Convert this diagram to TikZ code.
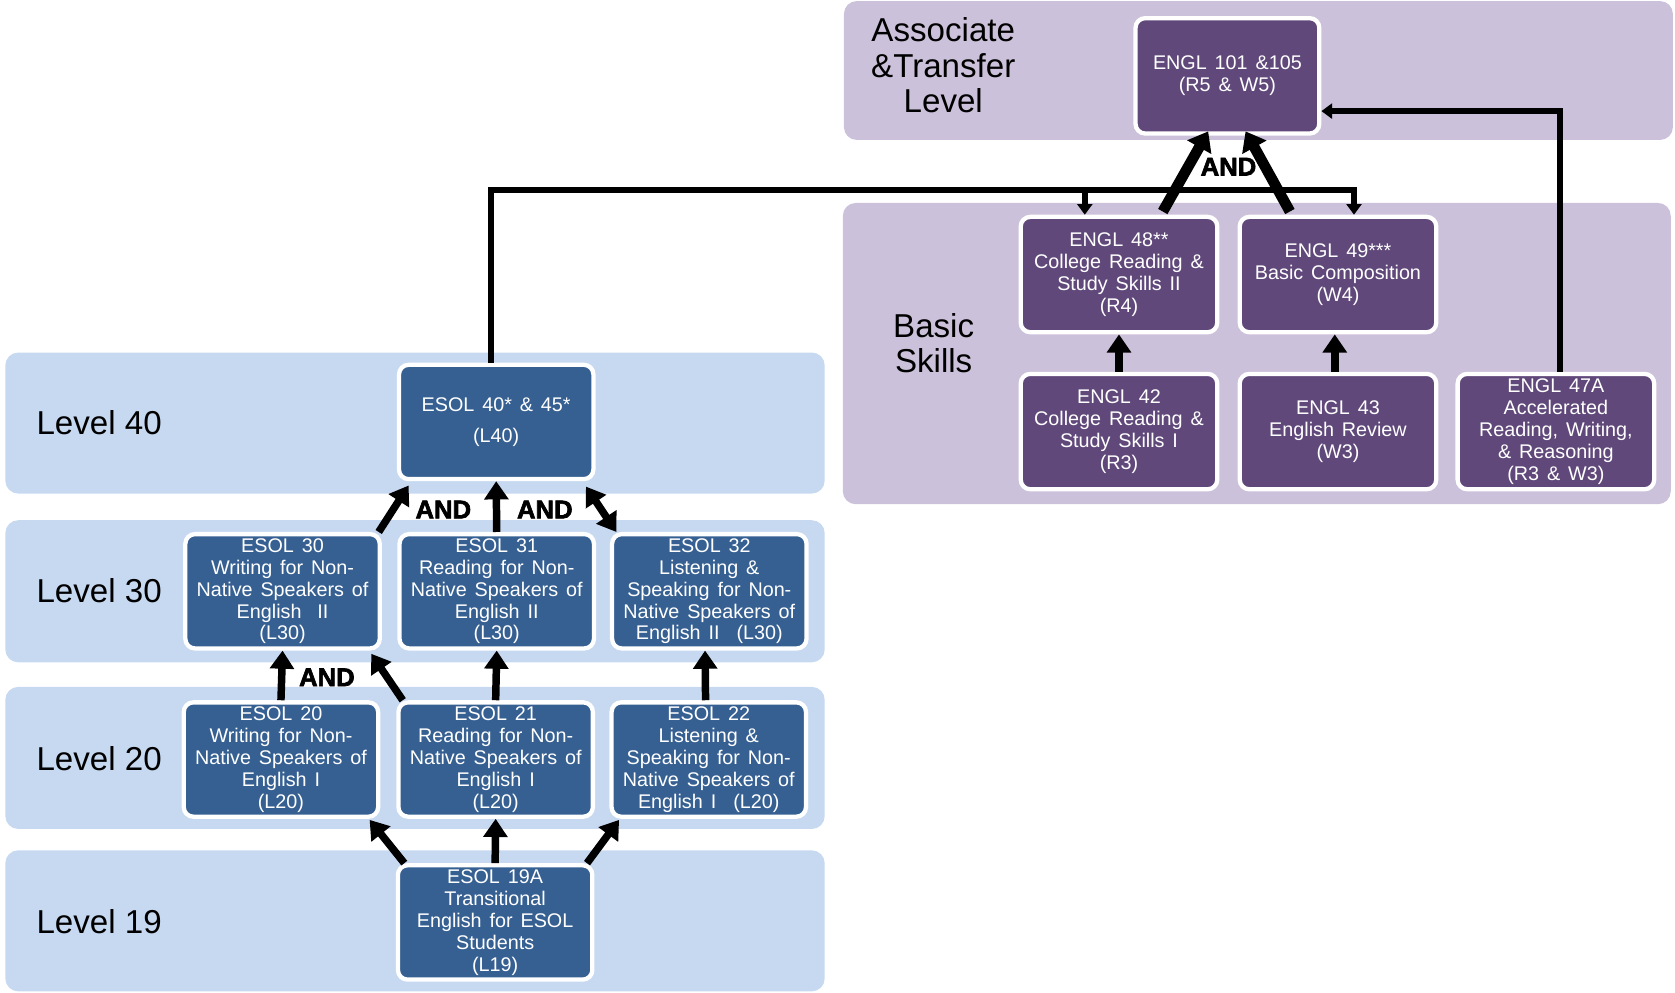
\documentclass[tikz,border=0pt]{standalone}
\usepackage{fontspec}
\setmainfont{Liberation Sans}
\newfontfamily\andfont[BoldFeatures={FakeBold=2.5}]{Liberation Sans}
\usetikzlibrary{arrows.meta,positioning}

\definecolor{bandblue}{RGB}{198,217,241}
\definecolor{boxblue}{RGB}{54,96,146}
\definecolor{bandpurple}{RGB}{204,193,218}
\definecolor{boxpurple}{RGB}{96,73,122}

\newcommand\coursefont{\fontsize{18.5pt}{20.5pt}\selectfont\spaceskip=0.4em plus 0.1em\relax}

\tikzset{
	esol/.style={draw=white, line width=4pt, fill=boxblue, rounded corners=9pt, text=white, align=center,
		minimum width=182pt, minimum height=107pt, inner sep=0pt, font=\coursefont},
	engl/.style={esol, fill=boxpurple, minimum width=184pt, minimum height=108pt},
	levellabel/.style={anchor=west, inner sep=0pt, font=\fontsize{31pt}{33pt}\selectfont},
	tierlabel/.style={align=center, inner sep=0pt, font=\fontsize{31pt}{33pt}\selectfont},
	andlabel/.style={inner sep=0pt, font=\andfont\bfseries\fontsize{24pt}{24pt}\selectfont},
	fatarrow/.style={line width=7pt, -{Triangle[width=22pt,length=17pt]}},
	widearrow/.style={line width=10pt, -{Triangle[width=25pt,length=17pt]}},
	link/.style={line width=6pt, -{Triangle[width=14pt,length=10pt]}}
}

\begin{document}
\begin{tikzpicture}[x=1pt, y=-1pt]
	\useasboundingbox (0,0) rectangle (1568,929);

	% bands
	\fill[bandblue, rounded corners=12pt] (5,330) rectangle (772,462);
	\fill[bandblue, rounded corners=12pt] (5,487) rectangle (772,620);
	\fill[bandblue, rounded corners=12pt] (5,643) rectangle (772,776);
	\fill[bandblue, rounded corners=12pt] (5,796) rectangle (772,928);
	\fill[bandpurple, rounded corners=12pt] (790,1) rectangle (1566,131);
	\fill[bandpurple, rounded corners=12pt] (789,190) rectangle (1564,472);

	\node[levellabel] (lv40) at (34,396) {Level 40};
	\node[levellabel] (lv30) at (34,553) {Level 30};
	\node[levellabel] (lv20) at (34,710) {Level 20};
	\node[levellabel] (lv19) at (34,863) {Level 19};
	\node[tierlabel] (assoc) at (883,61) {Associate\\\&Transfer\\Level};
	\node[tierlabel] (basic) at (874,321) {Basic\\Skills};

	% ESOL courses
	\node[esol] (e40) at (464.5,395) {ESOL 40* \& 45*\\[8pt](L40)};
	\node[esol] (e30) at (264.5,553.5) {ESOL 30\\Writing for Non-\\Native Speakers of\\English\ \ II\\(L30)};
	\node[esol] (e31) at (465,553.5) {ESOL 31\\Reading for Non-\\Native Speakers of\\English II\\(L30)};
	\node[esol] (e32) at (664,553.5) {ESOL 32\\Listening \&\\Speaking for Non-\\Native Speakers of\\English II\hspace{16pt}(L30)};
	\node[esol] (e20) at (263,711) {ESOL 20\\Writing for Non-\\Native Speakers of\\English I\\(L20)};
	\node[esol] (e21) at (464,711) {ESOL 21\\Reading for Non-\\Native Speakers of\\English I\\(L20)};
	\node[esol] (e22) at (663.5,711) {ESOL 22\\Listening \&\\Speaking for Non-\\Native Speakers of\\English I\hspace{16pt}(L20)};
	\node[esol] (e19) at (463.5,863.5) {ESOL 19A\\Transitional\\English for ESOL\\Students\\(L19)};

	% ENGL courses
	\node[engl, minimum width=172pt] (g101) at (1149,71) {ENGL 101 \&105\\(R5 \& W5)};
	\node[engl] (g48) at (1047.5,257) {ENGL 48**\\College Reading \&\\Study Skills II\\(R4)};
	\node[engl] (g49) at (1252.5,257) {ENGL 49***\\Basic Composition\\(W4)};
	\node[engl] (g42) at (1047.5,404) {ENGL 42\\College Reading \&\\Study Skills I\\(R3)};
	\node[engl] (g43) at (1252.5,404) {ENGL 43\\English Review\\(W3)};
	\node[engl] (g47) at (1456.5,404) {ENGL 47A\\Accelerated\\Reading, Writing,\\\& Reasoning\\(R3 \& W3)};

	% long connectors
	\coordinate (bus48) at ([xshift=-32pt,yshift=23pt]g48.north);
	\coordinate (bus49) at ([xshift=15pt,yshift=23pt]g49.north);
	\draw[link] ([xshift=-5pt]e40.north) |- (bus49) -- (bus49 |- g49.north);
	\draw[link] (bus48) -- (bus48 |- g48.north);
	\draw[link] ([xshift=4pt]g47.north) |- ([yshift=-33pt]g101.east);

	% ESOL arrows
	\draw[fatarrow] ([xshift=8pt]e19.north west) -- ([xshift=-10pt,yshift=-1pt]e20.south east);
	\draw[fatarrow] (e19.north) -- (e21.south);
	\draw[fatarrow] ([xshift=-7pt]e19.north east) -- ([xshift=9pt,yshift=-1pt]e22.south west);
	\draw[fatarrow] (e20.north) -- (e30.south);
	\draw[fatarrow] ([xshift=6pt]e21.north west) -- ([xshift=-10pt,yshift=-3pt]e30.south east);
	\draw[fatarrow] (e21.north) -- (e31.south);
	\draw[fatarrow] ([xshift=-3pt]e22.north) -- ([xshift=-4pt]e32.south);
	\draw[fatarrow] ([xshift=-3pt]e30.north east) -- ([xshift=11pt,yshift=-4pt]e40.south west);
	\draw[fatarrow] (e31.north) -- (e40.south);
	\draw[fatarrow, {Triangle[width=22pt,length=17pt]}-{Triangle[width=22pt,length=17pt]}] ([xshift=6pt]e32.north west) -- ([xshift=-9pt,yshift=-5pt]e40.south east);

	% ENGL arrows
	\draw[fatarrow] (g42.north) -- (g48.south);
	\draw[fatarrow] ([xshift=-3pt]g43.north) -- ([xshift=-3pt]g49.south);
	\draw[widearrow] ([xshift=41pt,yshift=3pt]g48.north) -- ([xshift=-18pt,yshift=4pt]g101.south);
	\draw[widearrow] ([xshift=-45pt,yshift=3pt]g49.north) -- ([xshift=17pt,yshift=4pt]g101.south);

	\node[andlabel] (and1) at (415,477) {AND};
	\node[andlabel] (and2) at (510,477) {AND};
	\node[andlabel] (and3) at (306,634) {AND};
	\node[andlabel] (and4) at (1150,156) {AND};
\end{tikzpicture}
\end{document}
